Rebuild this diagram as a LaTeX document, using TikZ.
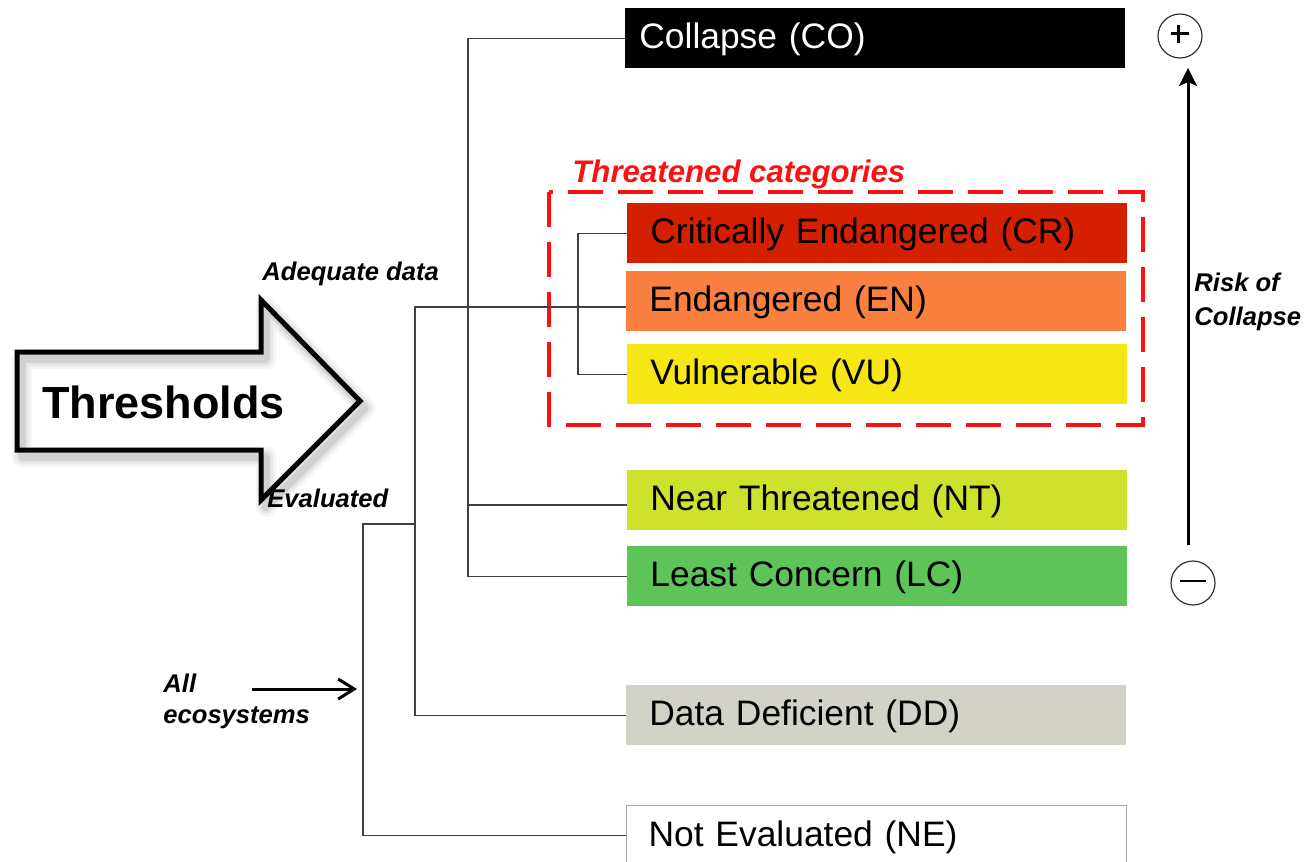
\documentclass[tikz,border=0pt]{standalone}
\usepackage{fontspec}
\setmainfont{Liberation Sans}
\usetikzlibrary{arrows.meta}

\definecolor{catCR}{HTML}{D41F00}
\definecolor{catEN}{HTML}{FA8040}
\definecolor{catVU}{HTML}{F6E614}
\definecolor{catNT}{HTML}{CDE12D}
\definecolor{catLC}{HTML}{5EC45A}
\definecolor{catDD}{HTML}{D2D2C6}
\definecolor{treegray}{HTML}{404040}
\definecolor{threatred}{HTML}{FF1010}

\begin{document}
\begin{tikzpicture}[x=0.5pt,y=-0.5pt,
  cat/.style={rectangle, anchor=north west, minimum width=250pt, minimum height=30pt,
    inner xsep=11.5pt, inner ysep=0pt, text width=227pt, align=left,
    text height=13pt, text depth=2.5pt, font=\fontsize{17.7pt}{20pt}\selectfont},
  tree/.style={draw=treegray, line width=0.8pt},
  lbl/.style={inner sep=0pt, anchor=base west, font=\fontsize{12.8pt}{15pt}\selectfont\bfseries\itshape},
  threat/.style={draw=threatred, line width=2pt, dash pattern=on 17.5pt off 7.5pt},
  bigarrow/.style={line width=2.5pt, line join=miter},
  sign/.style={circle, draw=black!80, line width=0.6pt, minimum size=22pt, inner sep=0pt},
]
\useasboundingbox (0,0) rectangle (1310,861);

% category boxes
\node[cat, fill=black, text=white, inner xsep=7pt, text width=236pt] (co) at (625,8) {Collapse (CO)};
\node[cat, fill=catCR] (cr) at (627,203) {Critically Endangered (CR)};
\node[cat, fill=catEN] (en) at (626,271) {Endangered (EN)};
\node[cat, fill=catVU] (vu) at (627,344) {Vulnerable (VU)};
\node[cat, fill=catNT] (nt) at (627,470) {Near Threatened (NT)};
\node[cat, fill=catLC] (lc) at (627,546) {Least Concern (LC)};
\node[cat, fill=catDD] (dd) at (626,685) {Data Deficient (DD)};
\node[cat, fill=white, draw=black!35, line width=0.6pt, inner xsep=11pt, text width=228pt] (ne) at (626,805) {Not Evaluated (NE)};

% threatened group
\draw[threat] (549,192) rectangle (1143,425);
\node[lbl, text=threatred, font=\fontsize{15.6pt}{18pt}\selectfont\bfseries\itshape] (tt) at (572,183) {Threatened categories};

% branching tree
\coordinate (ev) at (363,524);
\coordinate (ad) at (415,307);
\coordinate (th) at (468,307);
\coordinate (tc) at (578,307);
\coordinate (ntj) at (468,505);
\draw[tree] (ne.west) -| (ev) -- (ev -| ad);
\draw[tree] (dd.west) -| (ad) -- (ad -| en.west);
\draw[tree] (co.west) -| (th) |- (lc.west);
\draw[tree] (ntj) -- (ntj -| nt.west);
\draw[tree] (cr.west) -| (tc) |- (vu.west);

% side labels
\node[lbl] (adq) at (262,280) {Adequate data};
\node[lbl] (all1) at (163,692) {All};
\node[lbl] (all2) at (163,723) {ecosystems};
\coordinate (alls) at (252,689);
\coordinate (alle) at (357,689);
\draw[line width=1.5pt, -{Straight Barb[length=8pt,width=10pt]}] (alls) -- (alle);

% thresholds block arrow with soft shadow
\foreach \w/\o in {10/0.04,7/0.06,4/0.09}{
  \draw[line width=\w pt, line join=round, draw opacity=\o, xshift=2.5pt, yshift=-3.5pt]
    (17,352) -- (261,352) -- (261,300) -- (360,401) -- (261,500) -- (261,450) -- (17,450) -- cycle;
}
\draw[bigarrow] (17,352) -- (261,352) -- (261,300) -- (360,401) -- (261,500) -- (261,450) -- (17,450) -- cycle;
\node[inner sep=0pt, anchor=base west, font=\fontsize{22.5pt}{26pt}\selectfont\bfseries] (thr) at (42,418) {Thresholds};
\node[lbl] (evl) at (267,507) {Evaluated};

% risk of collapse scale
\node[sign] (plus) at (1180,36) {};
\draw[line width=1.5pt] ([xshift=-4.5pt,yshift=1pt]plus.center) -- ([xshift=4.5pt,yshift=1pt]plus.center);
\draw[line width=1.5pt] ([xshift=-1pt,yshift=5.5pt]plus.center) -- ([xshift=-1pt,yshift=-3.5pt]plus.center);
\node[sign] (minus) at (1193,583) {};
\draw[line width=1.1pt] ([xshift=-6.5pt,yshift=1pt]minus.center) -- ([xshift=6.5pt,yshift=1pt]minus.center);
\coordinate (rb) at (1188,545);
\coordinate (rt) at (1188,68);
\draw[line width=1.5pt, -{Stealth[length=9pt,width=9pt,inset=2pt]}] (rb) -- (rt);
\node[lbl] (risk1) at (1194,291) {Risk of};
\node[lbl] (risk2) at (1194,325) {Collapse};
\end{tikzpicture}
\end{document}
